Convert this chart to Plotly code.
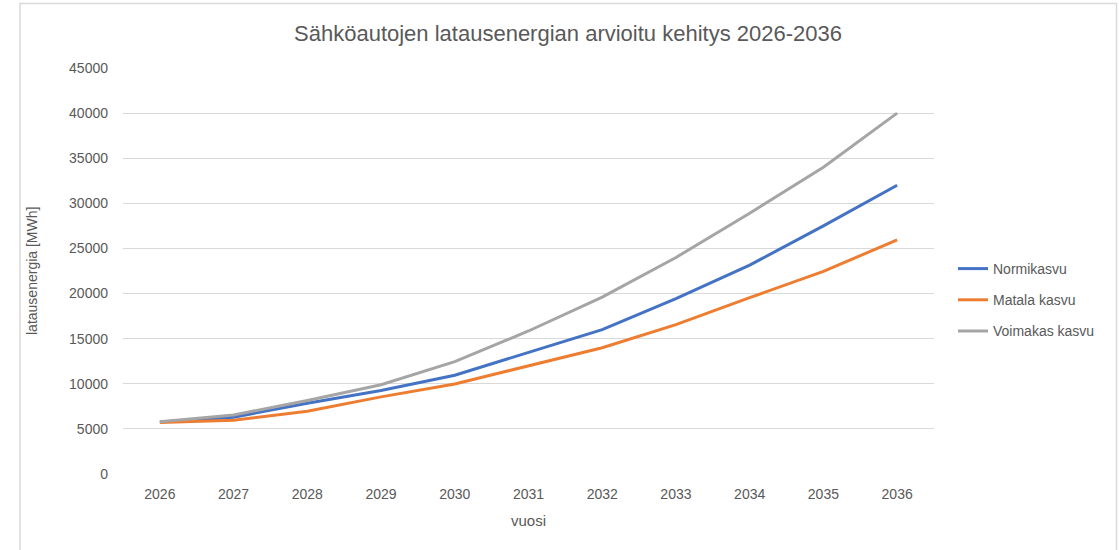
import plotly.graph_objects as go

years = ["2026", "2027", "2028", "2029", "2030", "2031", "2032", "2033", "2034", "2035", "2036"]
normikasvu = [5750, 6300, 7850, 9250, 10950, 13500, 16000, 19450, 23150, 27500, 32000]
matala_kasvu = [5700, 5950, 6950, 8550, 9980, 11950, 14000, 16550, 19550, 22450, 25950]
voimakas_kasvu = [5800, 6550, 8150, 9900, 12450, 15850, 19600, 24000, 28900, 34000, 40000]
y_ticks = [0, 5000, 10000, 15000, 20000, 25000, 30000, 35000, 40000, 45000]

series = [
    ("Normikasvu", normikasvu, "#4472C4"),
    ("Matala kasvu", matala_kasvu, "#ED7D31"),
    ("Voimakas kasvu", voimakas_kasvu, "#A5A5A5"),
]

W, H = 1119, 550
L, R, T, B = 123, 185, 68, 76
pw, ph = W - L - R, H - T - B

def px(x):
    return (x - L) / pw

def py(y):
    return (H - B - y) / ph

fig = go.Figure()
for i, (name, vals, col) in enumerate(series):
    fig.add_trace(go.Scatter(
        x=years, y=vals, name=name, mode="lines",
        line=dict(color=col, width=3),
        legendgroup=f"g{i}",
    ))

font = "Liberation Sans, Arial, sans-serif"
fig.update_layout(
    width=W, height=H,
    margin=dict(l=L, r=R, t=T, b=B, autoexpand=False),
    paper_bgcolor="white", plot_bgcolor="white",
    font=dict(family=font, color="#595959", size=14),
    title=dict(text="Sähköautojen latausenergian arvioitu kehitys 2026-2036",
               x=568 / W, xanchor="center", y=1 - 33 / H, yanchor="middle",
               font=dict(size=22, color="#595959", family=font)),
    xaxis=dict(type="category", showgrid=False, zeroline=False, showline=False,
               ticks="", ticklabelstandoff=10, tickfont=dict(size=14, color="#595959"),
               range=[-0.5, len(years) - 0.5]),
    yaxis=dict(range=[0, 45000], tickvals=y_ticks, ticktext=[str(v) for v in y_ticks],
               showgrid=True, gridcolor="#D9D9D9",
               gridwidth=1, zeroline=False, showline=False, ticks="",
               ticklabelstandoff=14, tickfont=dict(size=14, color="#595959")),
    legend=dict(x=px(953), y=py(300), xanchor="left", yanchor="middle",
                font=dict(size=14, color="#595959"), tracegroupgap=10,
                traceorder="grouped", bgcolor="rgba(0,0,0,0)"),
    showlegend=True,
)

fig.add_annotation(text="latausenergia [MWh]", xref="paper", yref="paper",
                   x=px(32), y=py(271), textangle=-90, showarrow=False,
                   font=dict(size=14, color="#595959"), xanchor="center", yanchor="middle")
fig.add_annotation(text="vuosi", xref="paper", yref="paper",
                   x=px(528), y=py(520), showarrow=False,
                   font=dict(size=15, color="#595959"), xanchor="center", yanchor="middle")

fig.add_shape(type="path", xref="paper", yref="paper",
              path=f"M {px(20)} {py(560)} L {px(20)} {py(3.5)} L {px(1116.5)} {py(3.5)} L {px(1116.5)} {py(560)}",
              line=dict(color="#D9D9D9", width=1.5), layer="below")

fig.write_html("out.html", config={"displayModeBar": False},
               post_script="document.body.style.margin='0';document.body.style.overflow='hidden';")
